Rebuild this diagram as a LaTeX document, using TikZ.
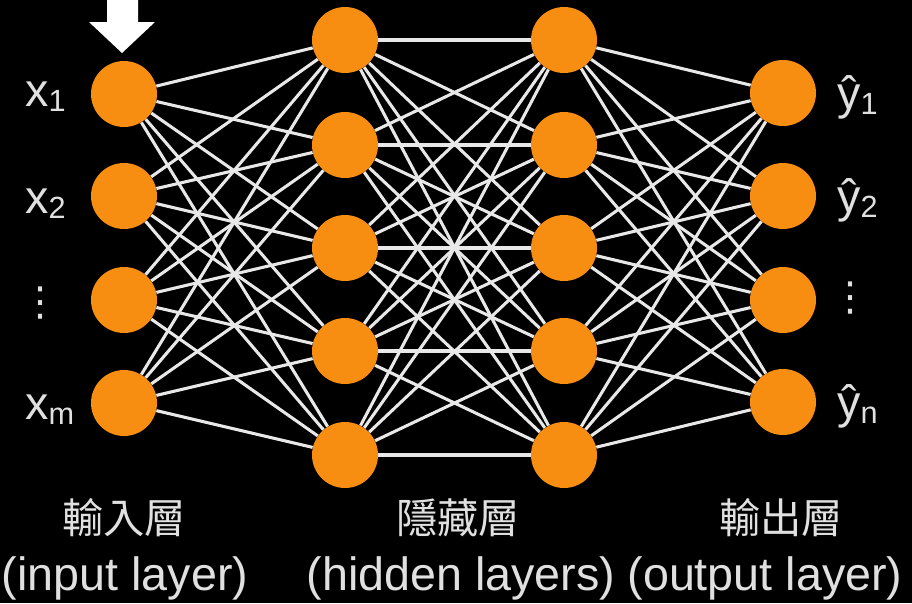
\documentclass[tikz,border=0pt]{standalone}
\usepackage{fontspec}
\setmainfont{Liberation Sans}
\newfontfamily\cjk{Noto Sans CJK TC}
\newfontfamily\dejavu{DejaVu Sans}
\usetikzlibrary{backgrounds}
\definecolor{cellorange}{RGB}{247,142,18}
\definecolor{wirewhite}{RGB}{232,232,232}
\definecolor{labelgray}{RGB}{224,224,224}
\newcommand\lsub[1]{\raisebox{-0.12em}{\fontsize{23}{26}\selectfont #1}}
\tikzset{
  neuron/.style={circle, fill=cellorange, inner sep=0pt, minimum size=49.5pt},
  wire/.style={draw=wirewhite, line width=2.3pt},
  lbl/.style={text=labelgray, inner sep=0pt, font=\fontsize{35}{40}\selectfont},
  cjklbl/.style={lbl, font=\cjk\fontsize{31}{36}\selectfont},
}
\begin{document}
\begin{tikzpicture}[x=0.75pt, y=-0.75pt, line cap=round]
  \useasboundingbox (0,0) rectangle (912,603);
  % Neurons, one column per layer.
  \foreach \i/\y in {1/94,2/196,3/300,4/403}
    \node[neuron] (in\i) at (124,\y) {};
  \foreach \i/\y in {1/40,2/145,3/248,4/351,5/455} {
    \node[neuron] (ha\i) at (345,\y) {};
    \node[neuron] (hb\i) at (564,\y) {};
  }
  \foreach \i/\y in {1/93,2/196,3/300,4/402}
    \node[neuron] (out\i) at (783,\y) {};
  % Black ground and all the weights, behind the neurons.
  \begin{scope}[on background layer]
    \fill[black] (0,0) rectangle (912,603);
    \foreach \i in {1,...,4}
      \foreach \j in {1,...,5} {
        \draw[wire] (in\i) -- (ha\j);
        \draw[wire] (hb\j) -- (out\i);
      }
    \foreach \i in {1,...,5}
      \foreach \j in {1,...,5}
        \draw[wire] (ha\i) -- (hb\j);
  \end{scope}
  % Arrow onto the first input.
  \fill[white] (107,0) -- (138,0) -- (138,22) -- (155,22) -- (122,53)
    -- (89,22) -- (107,22) -- cycle;
  % Inputs and outputs.
  \node[lbl, anchor=base west] (x1) at (25,106) {x\lsub{1}};
  \node[lbl, anchor=base west] (x2) at (25,213) {x\lsub{2}};
  \node[lbl, font=\dejavu\fontsize{30}{36}\selectfont] (xdots) at (41,303) {⋮};
  \node[lbl, anchor=base west] (xm) at (25,419) {x\lsub{m}};
  \node[lbl, anchor=base west] (y1) at (837,109) {ŷ\lsub{1}};
  \node[lbl, anchor=base west] (y2) at (837,212) {ŷ\lsub{2}};
  \node[lbl, font=\dejavu\fontsize{30}{36}\selectfont] (ydots) at (850,298) {⋮};
  \node[lbl, anchor=base west] (yn) at (837,418) {ŷ\lsub{n}};
  % Layer names.
  \node[cjklbl] (tin)  at (124,518) {輸入層};
  \node[cjklbl] (thid) at (458,518) {隱藏層};
  \node[cjklbl] (tout) at (781,518) {輸出層};
  \node[lbl] (ein)  at (125,578) {(input layer)};
  \node[lbl] (ehid) at (461,578) {(hidden layers)};
  \node[lbl] (eout) at (765,578) {(output layer)};
\end{tikzpicture}
\end{document}
